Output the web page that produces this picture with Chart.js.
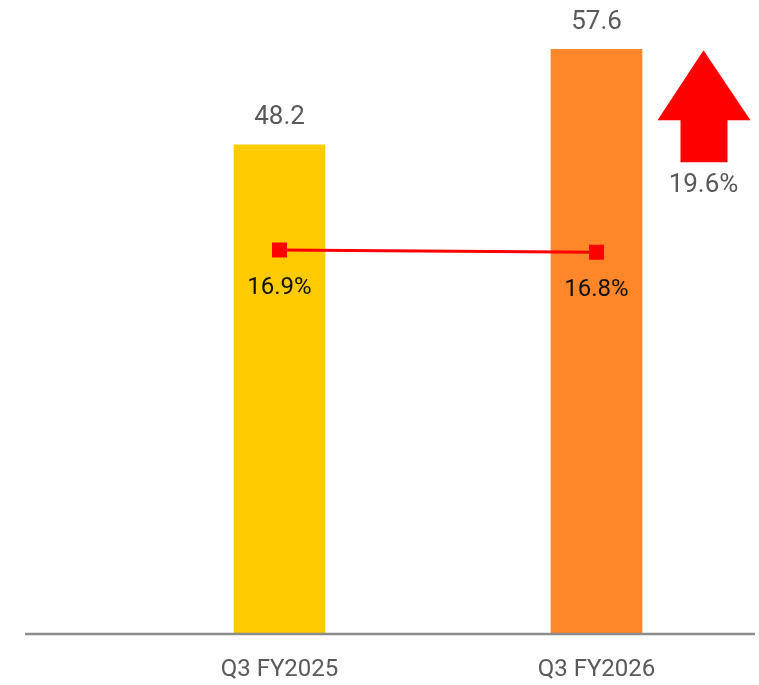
<!DOCTYPE html>
<html>
<head>
<meta charset="utf-8">
<script src="https://cdn.jsdelivr.net/npm/chart.js@4"></script>
<style>
  body { margin: 0; background: #fff; }
</style>
</head>
<body>
<canvas id="revenueChart" width="759" height="685"></canvas>
<script>
var categories = ['Q3 FY2025', 'Q3 FY2026'];
var revenue = [48.2, 57.6];
var margin = [16.9, 16.8];
var barColors = ['#FFCA00', '#FF8629'];
var growthLabel = '19.6%';

var FONT = 'Roboto, "Liberation Sans", sans-serif';

var labelPlugin = {
  id: 'labels',
  afterDatasetsDraw: function (chart) {
    var ctx = chart.ctx;
    var pts = chart.getDatasetMeta(0).data;
    var bars = chart.getDatasetMeta(1).data;
    ctx.save();
    ctx.textAlign = 'center';
    ctx.textBaseline = 'middle';

    ctx.font = '26px ' + FONT;
    ctx.fillStyle = '#595959';
    bars.forEach(function (b, i) {
      ctx.fillText(revenue[i].toFixed(1), b.x, b.y - 27);
    });

    ctx.font = '24px ' + FONT;
    ctx.fillStyle = '#111111';
    pts.forEach(function (p, i) {
      ctx.fillText(margin[i].toFixed(1) + '%', p.x, p.y + 38);
    });

    // growth arrow next to the latest bar
    var last = bars[bars.length - 1];
    var cx = last.x + 107, top = last.y + 1;
    ctx.fillStyle = '#FF0000';
    ctx.beginPath();
    ctx.moveTo(cx, top);
    ctx.lineTo(cx + 47, top + 70);
    ctx.lineTo(cx + 24, top + 70);
    ctx.lineTo(cx + 24, top + 112);
    ctx.lineTo(cx - 23, top + 112);
    ctx.lineTo(cx - 23, top + 70);
    ctx.lineTo(cx - 46, top + 70);
    ctx.closePath();
    ctx.fill();

    ctx.font = '26px ' + FONT;
    ctx.fillStyle = '#595959';
    ctx.fillText(growthLabel, cx, top + 135);

    // baseline
    var area = chart.chartArea;
    ctx.strokeStyle = '#8C8C8C';
    ctx.lineWidth = 2.5;
    ctx.beginPath();
    ctx.moveTo(25, area.bottom);
    ctx.lineTo(755, area.bottom);
    ctx.stroke();
    ctx.restore();
  }
};

new Chart(document.getElementById('revenueChart'), {
  type: 'bar',
  data: {
    labels: categories,
    datasets: [
      {
        type: 'line',
        label: 'Margin',
        data: margin,
        yAxisID: 'y2',
        borderColor: '#FF0000',
        backgroundColor: '#FF0000',
        borderWidth: 3,
        pointStyle: 'rect',
        pointRadius: 8.5,
        pointHoverRadius: 8.5,
        order: 0
      },
      {
        type: 'bar',
        label: 'Revenue',
        data: revenue,
        backgroundColor: barColors,
        barThickness: 91,
        order: 1
      }
    ]
  },
  plugins: [labelPlugin],
  options: {
    responsive: false,
    animation: false,
    layout: { autoPadding: false, padding: { left: 121, right: 4, top: 25, bottom: 0 } },
    plugins: {
      legend: { display: false },
      tooltip: { enabled: false }
    },
    scales: {
      x: {
        grid: { display: false },
        border: { display: false },
        ticks: { color: '#595959', font: { family: FONT, size: 24 }, padding: 14 },
        afterFit: function (scale) {
          scale.height = 51;
          scale.paddingLeft = 0;
          scale.paddingRight = 0;
        }
      },
      y: { display: false, min: 0, max: 60 },
      y2: { display: false, min: 0, max: 26.8 }
    }
  }
});
</script>
</body>
</html>
